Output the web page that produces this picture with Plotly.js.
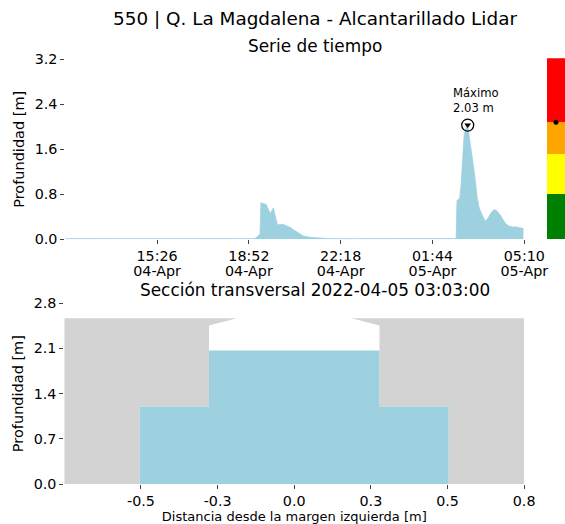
<!DOCTYPE html>
<html>
<head>
<meta charset="utf-8">
<script src="https://cdn.plot.ly/plotly-3.0.1.min.js"></script>
<style>html,body{margin:0;padding:0;background:#fff;}#chart{width:565px;height:524px;}</style>
</head>
<body>
<div id="chart"></div>
<script>
// ---- Serie de tiempo (profundidad en m) ----
const tiempos = [
  '2022-04-04 12:00','2022-04-04 13:00','2022-04-04 14:00','2022-04-04 15:00','2022-04-04 16:00',
  '2022-04-04 17:00','2022-04-04 18:00','2022-04-04 19:00','2022-04-04 19:06','2022-04-04 19:13',
  '2022-04-04 19:17','2022-04-04 19:19','2022-04-04 19:25','2022-04-04 19:31','2022-04-04 19:36',
  '2022-04-04 19:41','2022-04-04 19:44','2022-04-04 19:47','2022-04-04 19:50','2022-04-04 19:53',
  '2022-04-04 19:56','2022-04-04 20:02','2022-04-04 20:08','2022-04-04 20:13','2022-04-04 20:19',
  '2022-04-04 20:25','2022-04-04 20:32','2022-04-04 20:40','2022-04-04 20:47','2022-04-04 20:54',
  '2022-04-04 21:09','2022-04-04 21:32','2022-04-04 21:54','2022-04-04 22:30','2022-04-04 23:30',
  '2022-04-05 00:30','2022-04-05 01:30','2022-04-05 02:20','2022-04-05 02:37','2022-04-05 02:39',
  '2022-04-05 02:45','2022-04-05 02:48','2022-04-05 02:52','2022-04-05 02:55','2022-04-05 02:59',
  '2022-04-05 03:03','2022-04-05 03:06','2022-04-05 03:11','2022-04-05 03:15','2022-04-05 03:20',
  '2022-04-05 03:24','2022-04-05 03:29','2022-04-05 03:36','2022-04-05 03:42','2022-04-05 03:49',
  '2022-04-05 03:56','2022-04-05 04:03','2022-04-05 04:09','2022-04-05 04:16','2022-04-05 04:20',
  '2022-04-05 04:27','2022-04-05 04:34','2022-04-05 04:43','2022-04-05 04:52','2022-04-05 05:01',
  '2022-04-05 05:08'
];
const profundidad = [
  0.012,0.010,0.011,0.009,0.012,
  0.010,0.011,0.012,0.015,0.06,
  0.10,0.65,0.64,0.62,0.52,
  0.46,0.52,0.56,0.45,0.32,
  0.26,0.26,0.27,0.25,0.23,
  0.21,0.17,0.13,0.09,0.06,
  0.035,0.02,0.012,0.010,0.011,
  0.010,0.012,0.012,0.013,0.69,
  0.73,0.95,1.50,1.85,1.97,
  2.03,1.85,1.60,1.35,1.05,
  0.75,0.55,0.42,0.32,0.38,
  0.48,0.53,0.50,0.43,0.37,
  0.29,0.24,0.22,0.22,0.21,
  0.19
];
const tiempoMaximo = '2022-04-05 03:03';
const valorMaximo = 2.03;
const lineasMaximo = ['Máximo', '2.03 m'];
const rangoTiempo = ['2022-04-04 12:00', '2022-04-05 05:10'];
const tickTiempos = ['2022-04-04 15:26','2022-04-04 18:52','2022-04-04 22:18','2022-04-05 01:44','2022-04-05 05:10'];
const tickHoras = ['15:26','18:52','22:18','01:44','05:10'];
const tickFechas = ['04-Apr','04-Apr','04-Apr','05-Apr','05-Apr'];
const ticksProfundidad = [0, 0.8, 1.6, 2.4, 3.2];

// ---- Barra de alerta ----
const umbrales = [0, 0.8, 1.5, 2.08, 3.2];
const coloresAlerta = ['#008000', '#ffff00', '#ffa500', '#ff0000'];
const nivelActual = 2.07;

// ---- Sección transversal ----
const seccionX = [-0.52, -0.52, -0.287, -0.287, -0.193, 0.193, 0.287, 0.287, 0.52, 0.52];
const seccionY = [0, 1.2, 1.2, 2.457, 2.567, 2.567, 2.457, 1.2, 1.2, 0];
const margenX = [-0.774, 0.774];
const topeTerreno = 2.567;
const nivelSeccion = 2.07;
const ticksSeccionX = [-0.516, -0.258, 0, 0.258, 0.516, 0.774];
const etiquetasSeccionX = ['-0.5', '-0.3', '0.0', '0.3', '0.5', '0.8'];
const ticksSeccionY = [0, 0.7, 1.4, 2.1, 2.8];

const W = 565, H = 524;
const px = v => v / W;
const py = v => 1 - v / H;
const FONT = 'DejaVu Sans, sans-serif';
const AZUL = 'rgb(158,209,224)';
const GRIS = 'rgb(211,211,211)';
const TICK_FS = 14.3;

const traces = [];
// time series
traces.push({
  x: tiempos, y: profundidad, type: 'scatter', mode: 'lines',
  fill: 'tozeroy', fillcolor: AZUL, line: {color: AZUL, width: 0.8},
  xaxis: 'x', yaxis: 'y', hoverinfo: 'skip', showlegend: false
});
// invisible trace carrying the date row of tick labels
traces.push({
  x: tickTiempos, y: tickTiempos.map(() => null), type: 'scatter', mode: 'markers',
  xaxis: 'x4', yaxis: 'y', showlegend: false, hoverinfo: 'skip'
});
traces.push({
  x: [tiempoMaximo], y: [valorMaximo], type: 'scatter', mode: 'markers',
  marker: {symbol: 'circle-open', size: 12, color: 'black', line: {width: 1.3, color: 'black'}},
  xaxis: 'x', yaxis: 'y', showlegend: false
});
traces.push({
  x: [tiempoMaximo], y: [valorMaximo], type: 'scatter', mode: 'markers',
  marker: {symbol: 'triangle-down', size: 6, color: 'black'},
  xaxis: 'x', yaxis: 'y', showlegend: false
});
// alert bar
traces.push({
  x: coloresAlerta.map(() => 0),
  y: coloresAlerta.map((c, i) => umbrales[i + 1] - umbrales[i]),
  base: coloresAlerta.map((c, i) => umbrales[i]),
  type: 'bar', width: 1, marker: {color: coloresAlerta, line: {width: 0}},
  xaxis: 'x3', yaxis: 'y3', showlegend: false, hoverinfo: 'skip'
});
traces.push({
  x: [0], y: [nivelActual], type: 'scatter', mode: 'markers',
  marker: {size: 5, color: 'black'}, xaxis: 'x3', yaxis: 'y3', showlegend: false
});
// section: ground
traces.push({
  x: [margenX[0]].concat(seccionX, [margenX[1], margenX[1], margenX[0]]),
  y: [0].concat(seccionY, [0, topeTerreno, topeTerreno]),
  type: 'scatter', mode: 'lines', fill: 'toself', fillcolor: GRIS,
  line: {width: 0, color: GRIS}, xaxis: 'x2', yaxis: 'y2', showlegend: false, hoverinfo: 'skip'
});
// section: water
traces.push({
  x: seccionX, y: seccionY.map(v => Math.min(v, nivelSeccion)),
  type: 'scatter', mode: 'lines', fill: 'toself', fillcolor: AZUL,
  line: {width: 0, color: AZUL}, xaxis: 'x2', yaxis: 'y2', showlegend: false, hoverinfo: 'skip'
});

const tickFont = {family: FONT, size: TICK_FS, color: '#000'};
const baseAxis = {
  showgrid: false, zeroline: false, showline: false, ticks: 'outside',
  ticklen: 4, tickwidth: 1, tickcolor: '#444', tickfont: tickFont, automargin: false, fixedrange: true
};

const layout = {
  width: W, height: H,
  margin: {l: 0, r: 0, t: 0, b: 0, pad: 0},
  paper_bgcolor: '#fff', plot_bgcolor: 'rgba(0,0,0,0)',
  font: {family: FONT, color: '#000'},
  showlegend: false, bargap: 0,
  title: {text: '550 | Q. La Magdalena - Alcantarillado Lidar', x: px(315), xanchor: 'center',
          y: py(19), yanchor: 'middle', font: {family: FONT, size: 18.4, color: '#000'}},
  xaxis: Object.assign({}, baseAxis, {
    type: 'date', domain: [px(65.3), px(524.3)], range: rangoTiempo, anchor: 'y',
    tickmode: 'array', tickvals: tickTiempos, ticktext: tickHoras
  }),
  // second row of the time labels (dates), drawn 14.5 px under the first row
  xaxis4: Object.assign({}, baseAxis, {
    type: 'date', domain: [px(65.3), px(524.3)], range: rangoTiempo, anchor: 'free', overlaying: 'x',
    position: py(239.3 + 14.5), side: 'bottom',
    tickmode: 'array', tickvals: tickTiempos, ticktext: tickFechas, tickcolor: 'rgba(0,0,0,0)'
  }),
  yaxis: Object.assign({}, baseAxis, {
    domain: [py(239.3), py(59.3)], range: [0, 3.2001], anchor: 'x',
    tickmode: 'array', tickvals: ticksProfundidad, tickformat: '.1f',
    title: {text: 'Profundidad [m]', font: {family: FONT, size: 14.5, color: '#000'}, standoff: 6}
  }),
  xaxis2: Object.assign({}, baseAxis, {
    domain: [px(64.3), px(524.3)], range: [margenX[0], margenX[1] + 0.0005], anchor: 'y2',
    tickmode: 'array', tickvals: ticksSeccionX, ticktext: etiquetasSeccionX,
    title: {text: 'Distancia desde la margen izquierda [m]', font: {family: FONT, size: 13, color: '#000'}, standoff: 1}
  }),
  yaxis2: Object.assign({}, baseAxis, {
    domain: [py(484), py(303.3)], range: [0, 2.8001], anchor: 'x2',
    tickmode: 'array', tickvals: ticksSeccionY, tickformat: '.1f',
    title: {text: 'Profundidad [m]', font: {family: FONT, size: 14.5, color: '#000'}, standoff: 6}
  }),
  xaxis3: {domain: [px(547), 1], range: [-0.5, 0.5], anchor: 'y3', visible: false, fixedrange: true},
  yaxis3: {domain: [py(239.3), py(58.3)], range: [0, 3.2], anchor: 'x3', visible: false, fixedrange: true},
  annotations: [
    {text: 'Serie de tiempo', xref: 'paper', yref: 'paper', x: px(315), y: py(46), xanchor: 'center', yanchor: 'middle',
     showarrow: false, font: {family: FONT, size: 16.9, color: '#000'}},
    {text: 'Sección transversal 2022-04-05 03:03:00', xref: 'paper', yref: 'paper', x: px(315), y: py(290),
     xanchor: 'center', yanchor: 'middle', showarrow: false, font: {family: FONT, size: 16.9, color: '#000'}},
    {text: lineasMaximo.join('<br>'), xref: 'x', yref: 'y', x: tiempoMaximo, y: valorMaximo, xshift: -16, yshift: 25,
     xanchor: 'left', yanchor: 'middle', showarrow: false, align: 'left', borderpad: 0,
     font: {family: FONT, size: 11.6, color: '#000'}}
  ]
};

Plotly.newPlot('chart', traces, layout, {displayModeBar: false, staticPlot: true});
</script>
</body>
</html>
